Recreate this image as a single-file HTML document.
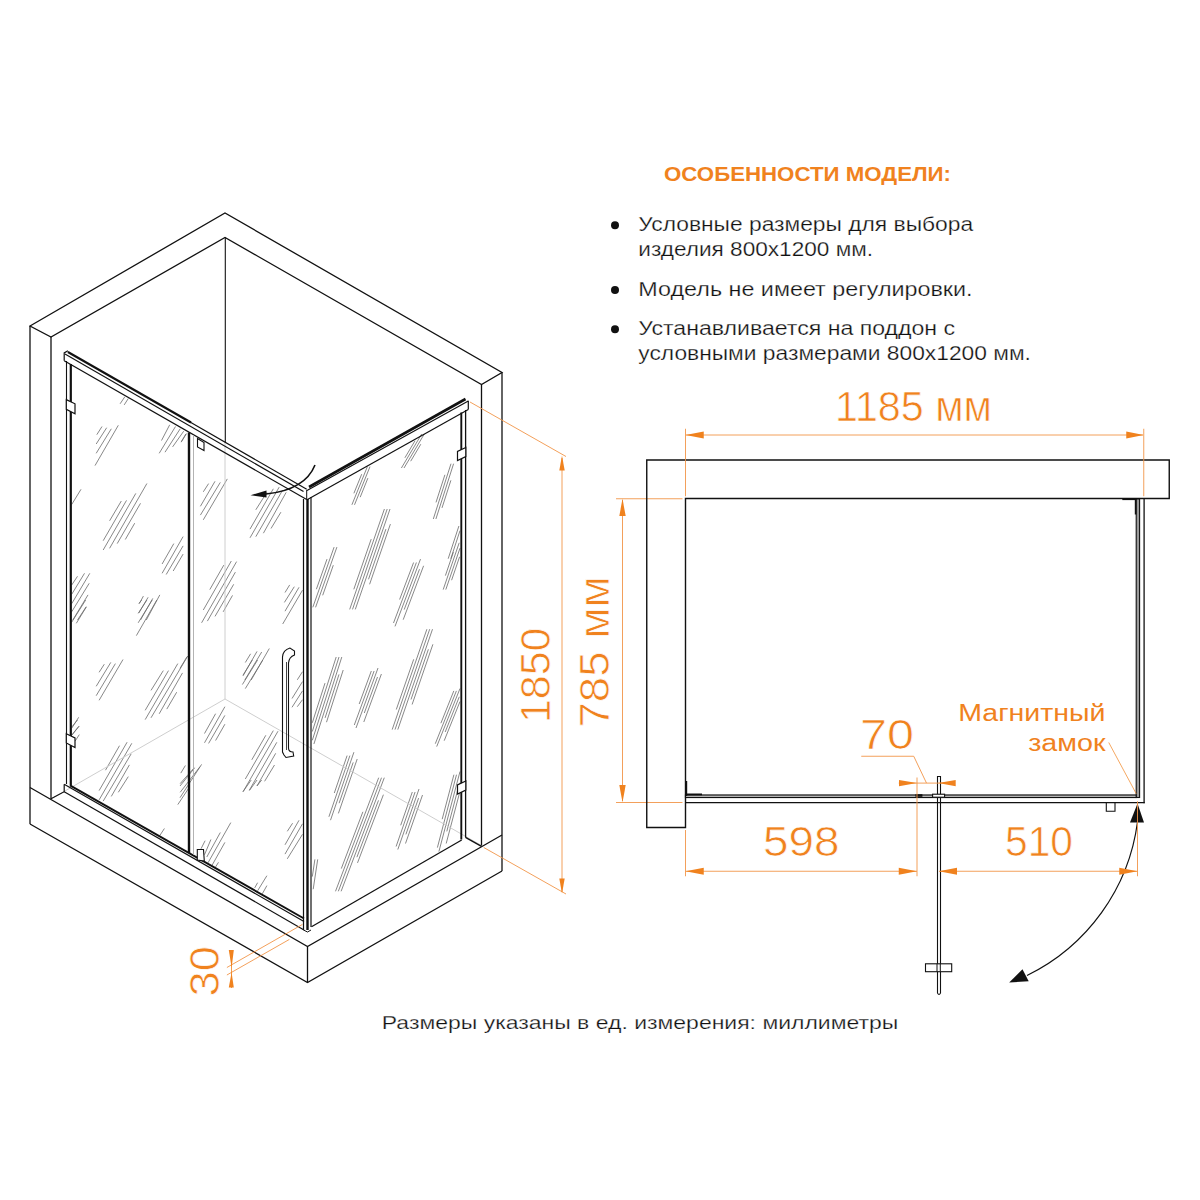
<!DOCTYPE html>
<html><head><meta charset="utf-8"><style>
html,body{margin:0;padding:0;background:#fff;}
svg{display:block;font-family:"Liberation Sans", sans-serif;}
</style></head><body>
<svg width="1200" height="1200" viewBox="0 0 1200 1200" stroke-linecap="butt">
<path d="M96.8,434.7L102.0,426.5 M96.2,444.0L106.7,427.7 M96.2,453.3L111.3,428.8 M95.0,465.6L118.3,425.3 M161.5,440.5L169.7,424.8 M159.2,453.3L175.5,426.5 M165.0,452.2L180.2,428.8 M172.6,446.9L183.7,431.2 M181.3,441.7L186.6,433.5 M120.1,403.8L124.8,396.8 M124.2,404.9L128.3,398.5 M109.6,520.8L121.3,501.0 M103.2,540.7L126.5,500.4 M103.2,550.0L135.8,493.4 M109.6,548.3L146.9,483.5 M117.2,543.6L140.5,503.3 M125.3,539.5L134.7,523.2 M162.1,564.0L173.8,543.6 M162.1,573.3L183.1,536.6 M166.2,574.5L183.1,545.9 M173.2,571.0L183.1,554.1 M71.7,585.0L77.5,576.3 M71.7,594.3L84.5,573.3 M71.7,603.7L89.8,573.3 M71.7,611.8L89.2,583.3 M72.8,620.0L88.0,594.9 M77.5,620.0L86.3,606.6 M139.3,603.7L143.4,596.1 M138.8,613.0L148.1,597.3 M140.5,620.0L152.8,598.4 M146.3,620.0L159.8,594.9 M71.7,504.5L81.0,489.3 M138.8,603.5L141.7,600.0 M138.2,613.4L146.9,600.0 M138.2,622.8L152.2,600.0 M136.4,635.6L156.8,600.0 M71.7,622.2L85.7,600.0 M76.3,623.3L86.3,607.0 M99.1,672.3L104.3,664.2 M96.2,686.3L110.8,662.4 M96.2,695.7L115.4,663.6 M99.1,700.3L123.0,659.5 M151.0,690.4L163.3,670.6 M145.2,710.3L168.5,670.6 M145.2,719.6L177.8,663.6 M151.0,717.8L187.8,656.0 M159.2,713.8L182.5,672.9 M166.8,709.1L176.7,692.2 M71.7,728.3L78.7,717.3 M71.7,735.3L79.3,726.0 M105.5,770.2L119.5,745.7 M99.1,790.6L127.1,742.2 M99.1,799.9L131.8,743.3 M103.2,801.1L131.2,753.8 M111.3,796.4L129.4,764.9 M118.3,792.3L128.3,776.6 M180.8,773.1L185.4,765.5 M180.2,783.6L194.2,767.8 M180.2,792.3L200.0,766.7 M177.8,804.6L188.3,788.8 M71.7,727.0L77.5,720.0 M71.7,735.2L78.7,726.4 M75.2,741.0L79.3,734.6 M159.8,835.5L164.4,828.5 M203.3,491.8L208.6,483.6 M200.4,506.3L215.0,481.3 M200.4,515.1L220.3,482.4 M203.3,519.8L227.3,478.9 M255.8,509.8L266.9,492.3 M250.0,529.1L273.3,488.8 M250.0,537.8L279.2,487.1 M255.8,536.7L282.7,490.0 M263.4,533.2L286.2,492.3 M271.0,528.5L280.9,512.2 M181.2,442.2L185.8,434.0 M209.8,589.6L223.8,565.1 M203.3,610.0L231.3,561.0 M201.6,622.8L236.6,561.6 M207.4,621.1L235.4,572.1 M215.0,616.4L233.7,584.3 M223.2,611.8L232.5,595.4 M285.0,592.5L289.7,584.9 M284.4,602.4L294.3,586.7 M285.0,611.2L299.0,587.3 M282.7,624.0L302.5,590.2 M245.3,662.5L250.6,653.8 M243.0,675.9L257.0,651.4 M244.8,680.0L261.7,652.0 M251.2,680.0L269.3,648.5 M180.0,668.3L187.0,656.7 M243.0,675.2L252.3,660.0 M242.4,684.5L257.6,660.0 M245.3,688.6L262.8,660.0 M204.5,733.5L215.6,713.7 M204.5,742.8L224.9,706.7 M208.6,743.4L224.9,715.4 M215.6,740.5L224.9,724.2 M251.8,759.8L265.8,735.3 M245.3,779.0L273.3,730.6 M243.0,791.8L278.0,731.2 M249.4,790.1L276.8,742.3 M257.0,786.0L275.7,753.3 M264.6,781.3L274.5,765.0 M297.3,679.8L302.5,671.7 M292.0,698.5L302.5,681.6 M292.0,707.3L302.5,690.9 M297.3,706.7L302.5,699.7 M180.0,786.0L194.6,767.9 M180.0,797.7L201.6,764.4 M243.0,791.7L251.2,780.0 M249.4,790.5L257.0,780.0 M257.0,785.8L261.7,780.0 M201.0,848.8L205.1,840.7 M204.5,854.7L210.9,839.5 M206.8,857.0L220.3,832.5 M208.0,862.8L230.8,822.6 M212.1,865.2L224.9,842.4 M215.6,866.9L218.5,862.3 M287.3,831.3L292.6,823.2 M285.0,844.8L299.0,820.3 M285.0,854.1L302.5,823.8 M287.3,858.8L302.5,834.3 M254.7,887.9L257.6,882.7 M257.6,890.8L266.9,875.7 M262.3,893.8L266.9,885.6 M404.9,457.8L415.0,440.8 M401.4,468.0L421.7,434.0 M404.0,468.0L424.3,434.0 M410.7,461.2L420.8,444.2 M353.9,493.3L361.7,474.2 M351.9,504.8L367.4,466.6 M354.5,504.8L370.0,466.6 M360.2,497.2L367.9,478.1 M436.0,502.4L444.9,474.8 M433.3,519.0L451.0,463.7 M435.9,519.0L453.6,463.7 M442.0,507.9L450.9,480.3 M353.8,589.3L371.2,539.1 M349.7,609.4L384.4,509.0 M352.5,609.4L387.2,509.0 M355.3,609.4L390.0,509.0 M368.5,579.3L385.9,529.1 M369.6,584.3L390.4,524.1 M316.4,589.2L327.0,559.1 M312.8,607.3L334.1,547.1 M315.6,607.3L336.9,547.1 M322.7,595.3L333.3,565.2 M399.6,599.5L413.6,562.5 M393.5,623.0L416.4,562.5 M395.0,626.4L420.5,559.1 M404.2,609.6L419.5,569.2 M403.2,619.7L423.6,565.8 M445.4,575.6L453.4,552.2 M443.2,589.6L459.2,542.8 M445.8,589.6L460.0,548.1 M451.6,580.2L459.6,556.8 M396.3,709.5L413.7,659.3 M392.2,729.6L426.9,629.2 M395.0,729.6L429.7,629.2 M397.8,729.6L432.5,629.2 M411.0,699.5L428.4,649.3 M412.1,704.5L432.9,644.3 M312.3,722.8L325.0,683.1 M312.3,731.5L336.2,657.0 M312.3,740.3L339.0,657.0 M313.9,744.0L341.8,657.0 M325.1,717.9L339.0,674.4 M326.5,722.2L343.2,670.0 M359.2,704.0L371.3,671.0 M354.3,725.0L374.1,671.0 M356.0,728.0L378.0,668.0 M364.3,713.0L377.5,677.0 M363.8,722.0L381.4,674.0 M440.9,723.2L453.8,690.9 M435.3,743.7L456.4,690.9 M436.7,746.6L460.0,688.5 M445.2,732.0L459.3,696.8 M444.2,740.7L460.0,701.5 M334.3,793.0L347.1,755.6 M328.9,816.8L349.9,755.6 M330.5,820.2L353.9,752.2 M339.1,803.2L353.2,762.4 M338.4,813.4L357.2,759.0 M341.3,868.6L362.9,811.8 M335.5,891.3L378.7,777.7 M338.3,891.3L381.5,777.7 M341.1,891.3L384.3,777.7 M356.9,857.2L378.5,800.4 M357.5,862.9L383.4,794.7 M400.7,825.3L412.3,792.0 M396.1,846.5L415.1,792.0 M397.8,849.5L419.0,789.0 M405.9,834.4L418.6,798.1 M405.5,843.5L422.5,795.0 M442.2,819.2L453.9,774.7 M437.4,847.6L456.5,774.7 M438.9,851.6L460.0,771.5 M446.8,831.4L459.6,782.8 M446.2,843.5L460.0,791.2 M312.3,876.6L314.9,859.4 M313.2,889.2L317.7,859.4 M448.2,558.7L458.9,526.0 M450.8,558.7L460.0,530.6" stroke="#6a6a6a" stroke-width="0.8" fill="none"/>
<path d="M51,799 L225,699 L481.5,845.5" stroke="#c8c8c8" stroke-width="0.9" fill="none" />
<line x1="225" y1="442.5" x2="225" y2="699" stroke="#c8c8c8" stroke-width="0.9" />
<path d="M30,326 L225,213 L502,372.5 L481.5,384.5 L225,237.5 L51,337 Z" stroke="#111111" stroke-width="1.3" fill="none" />
<line x1="30" y1="326" x2="30" y2="824" stroke="#111111" stroke-width="1.3" />
<line x1="51" y1="337" x2="51" y2="799" stroke="#111111" stroke-width="1.3" />
<line x1="481.5" y1="384.5" x2="481.5" y2="845.5" stroke="#111111" stroke-width="1.3" />
<line x1="502" y1="372.5" x2="502" y2="871" stroke="#111111" stroke-width="1.3" />
<line x1="225.3" y1="237.5" x2="225.3" y2="442.8" stroke="#111111" stroke-width="1.1" />
<path d="M30,787.5 L307.5,946.5 L502,835" stroke="#111111" stroke-width="1.3" fill="none" />
<path d="M30,824 L307.5,982.5 L502,871" stroke="#111111" stroke-width="1.3" fill="none" />
<line x1="307.5" y1="946.5" x2="307.5" y2="982.5" stroke="#111111" stroke-width="1.3" />
<path d="M51,798.75 L64.2,791.7 L64.2,784.2" stroke="#111111" stroke-width="1.2" fill="none" />
<path d="M64.2,784.2 L304,921.5" stroke="#111111" stroke-width="1.2" fill="none" />
<path d="M64.2,791.7 L304,930" stroke="#111111" stroke-width="1.2" fill="none" />
<path d="M70,785.4 L304,918.5" stroke="#111111" stroke-width="2.0" fill="none" />
<path d="M311.5,926.7 L461.7,840" stroke="#111111" stroke-width="1.3" fill="none" />
<path d="M465.5,837.3 L481.5,846.3" stroke="#111111" stroke-width="1.4" fill="none" />
<line x1="66.5" y1="361" x2="66.5" y2="784" stroke="#111111" stroke-width="1.1" />
<line x1="70.8" y1="364" x2="70.8" y2="785.5" stroke="#111111" stroke-width="2.2" />
<path d="M64.2,360.8 L64.2,352.9 L67.9,350.8" stroke="#111111" stroke-width="1.2" fill="none" />
<path d="M67.9,352 L191,422.5" stroke="#111111" stroke-width="2.2" fill="none" />
<path d="M65,353.9 L303.5,491.5" stroke="#111111" stroke-width="1.2" fill="none" />
<path d="M190,422 L306.7,489.2" stroke="#111111" stroke-width="1.2" fill="none" />
<path d="M64.2,360.8 L306.7,499.5" stroke="#111111" stroke-width="1.2" fill="none" />
<line x1="189" y1="432.5" x2="189" y2="853" stroke="#111111" stroke-width="2.4" />
<line x1="193.5" y1="435" x2="193.5" y2="855" stroke="#aaaaaa" stroke-width="0.9" />
<line x1="303.5" y1="499" x2="303.5" y2="930" stroke="#111111" stroke-width="1.2" />
<line x1="307.5" y1="499" x2="307.5" y2="930" stroke="#111111" stroke-width="2.4" />
<line x1="311" y1="497" x2="311" y2="927" stroke="#111111" stroke-width="1.2" />
<path d="M303.5,930 L307.5,932 L311,930" stroke="#111111" stroke-width="1.0" fill="none" />
<path d="M309,487 L465.5,399" stroke="#111111" stroke-width="2.6" fill="none" />
<path d="M307,490.5 L468.3,401" stroke="#111111" stroke-width="1.2" fill="none" />
<path d="M307.5,499.5 L468.3,409.5" stroke="#111111" stroke-width="1.2" fill="none" />
<line x1="468.3" y1="400.8" x2="468.3" y2="409.5" stroke="#111111" stroke-width="1.2" />
<path d="M306.7,490 L306.7,499.5" stroke="#111111" stroke-width="1.0" fill="none" />
<line x1="461.3" y1="412.5" x2="461.3" y2="839.6" stroke="#111111" stroke-width="1.9" />
<line x1="465.6" y1="410" x2="465.6" y2="837.6" stroke="#111111" stroke-width="1.3" />
<path d="M66.3,399.6 L75,403.8 L75,413.8 L66.3,409.3 Z" stroke="#111111" stroke-width="1.2" fill="#fff"/>
<path d="M66.3,733.8 L75,738 L75,747.5 L66.3,743 Z" stroke="#111111" stroke-width="1.2" fill="#fff"/>
<path d="M197.5,438.5 L197.5,447 L204,450.5 L204,442.5 Z" stroke="#111111" stroke-width="1.1" fill="#fff"/>
<path d="M197.3,860 L197.3,849.5 L203.5,849.5 L204.3,861 Z" stroke="#111111" stroke-width="1.1" fill="#fff"/>
<path d="M465.8,447.5 L457.5,451.5 L457.5,460.5 L465.8,456.5 Z" stroke="#111111" stroke-width="1.2" fill="#fff"/>
<path d="M465.8,781 L457.5,785 L457.5,794 L465.8,790 Z" stroke="#111111" stroke-width="1.2" fill="#fff"/>
<path d="M284,755 L282.5,752 L282.5,657 Q283,650 290,648 L294.5,651 L294.5,655 Q289,657 288.5,663 L288.5,748 Q288.5,752 293,752 L293.7,756 L286,757.5 Z" stroke="#111111" stroke-width="1.1" fill="none" />
<line x1="286.5" y1="662" x2="286.5" y2="750" stroke="#111111" stroke-width="0.8" />
<path d="M315,465 Q305,490 266,494" stroke="#111111" stroke-width="1.6" fill="none" />
<polygon points="250.5,495.2 266.5,490.5 266.5,497.5" fill="#111111" stroke="none" stroke-width="1"/>
<line x1="470" y1="402" x2="566" y2="456.5" stroke="#F29548" stroke-width="0.9" />
<line x1="483.75" y1="847.5" x2="566" y2="894" stroke="#F29548" stroke-width="0.9" />
<line x1="562" y1="458" x2="562" y2="892" stroke="#F29548" stroke-width="0.9" />
<polygon points="562,455.5 559.3,470.5 564.7,470.5" fill="#F0821E" stroke="none" stroke-width="1"/>
<polygon points="562,893.5 559.3,878.5 564.7,878.5" fill="#F0821E" stroke="none" stroke-width="1"/>
<text x="549.7" y="723" font-size="43" fill="#F0821E" font-weight="normal" text-anchor="start" textLength="95.5" lengthAdjust="spacingAndGlyphs" transform="rotate(-90 549.7 723)" stroke="#fff" stroke-width="0.7">1850</text>
<line x1="616" y1="498.75" x2="682.5" y2="498.75" stroke="#F29548" stroke-width="0.9" />
<line x1="616" y1="802.5" x2="682.5" y2="802.5" stroke="#F29548" stroke-width="0.9" />
<line x1="622.5" y1="500" x2="622.5" y2="801" stroke="#F29548" stroke-width="0.9" />
<polygon points="622.5,498.75 619.3,516 625.7,516" fill="#F0821E" stroke="none" stroke-width="1"/>
<polygon points="622.5,802.5 619.3,785 625.7,785" fill="#F0821E" stroke="none" stroke-width="1"/>
<text x="608.7" y="727.5" font-size="43" fill="#F0821E" font-weight="normal" text-anchor="start" textLength="151.5" lengthAdjust="spacingAndGlyphs" transform="rotate(-90 608.7 727.5)" stroke="#fff" stroke-width="0.7">785 мм</text>
<line x1="226.9" y1="967.5" x2="302.5" y2="924.4" stroke="#F29548" stroke-width="0.9" />
<line x1="226.9" y1="975" x2="289.4" y2="939.4" stroke="#F29548" stroke-width="0.9" />
<line x1="231.5" y1="950" x2="231.5" y2="988" stroke="#F0821E" stroke-width="0.8" />
<polygon points="228.8,950 233.8,950 231.6,967.5" fill="#F0821E" stroke="none" stroke-width="1"/>
<polygon points="228.8,987.5 233.8,987.5 231.6,972.5" fill="#F0821E" stroke="none" stroke-width="1"/>
<text x="218.75" y="996.5" font-size="43" fill="#F0821E" font-weight="normal" text-anchor="start" textLength="50.5" lengthAdjust="spacingAndGlyphs" transform="rotate(-90 218.75 996.5)" stroke="#fff" stroke-width="0.7">30</text>
<path d="M685.5,827.5 L646.75,827.5 L646.75,460 L1169.25,460 L1169.25,498.5 L685.5,498.5 Z" stroke="#111111" stroke-width="1.4" fill="none" />
<rect x="1136.2" y="499" width="3.4" height="298.5" fill="#9a9a9a" stroke="#111111" stroke-width="1.1"/>
<line x1="1144.1" y1="498.5" x2="1144.1" y2="803.2" stroke="#111111" stroke-width="1.3" />
<line x1="1135.6" y1="499" x2="1135.6" y2="514.5" stroke="#111111" stroke-width="1.6" />
<line x1="1122.3" y1="499.3" x2="1136" y2="499.3" stroke="#111111" stroke-width="1.6" />
<rect x="685.5" y="795" width="450.7" height="2.5" fill="#c8c8c8" stroke="#111111" stroke-width="1.2"/>
<line x1="685.5" y1="802.6" x2="1144.7" y2="802.6" stroke="#111111" stroke-width="1.3" />
<line x1="686.4" y1="781" x2="686.4" y2="796" stroke="#111111" stroke-width="1.6" />
<line x1="686" y1="794.4" x2="702" y2="794.4" stroke="#111111" stroke-width="1.8" />
<path d="M1106.3,802.5 L1106.3,811.3 L1115,811.3 L1115,802.5" stroke="#111111" stroke-width="1.1" fill="none" />
<path d="M937.5,776.5 L937.5,993 Q939,996 940.5,993 L940.5,776.5 Z" stroke="#111111" stroke-width="1.1" fill="none" />
<rect x="925.5" y="963.8" width="26.2" height="7.9" fill="#fff" stroke="#111111" stroke-width="1.1"/>
<line x1="937" y1="963.8" x2="937" y2="971.7" stroke="#111111" stroke-width="1.0" />
<line x1="940.3" y1="963.8" x2="940.3" y2="971.7" stroke="#111111" stroke-width="1.0" />
<rect x="932.6" y="794.2" width="12" height="3" fill="#fff" stroke="#111111" stroke-width="1.1"/>
<rect x="915.4" y="794.2" width="7" height="2.6" fill="#111111"/>
<path d="M1137.5,822 A200,200 0 0 1 1027,975.5" stroke="#111111" stroke-width="1.2" fill="none" />
<polygon points="1137.5,803.5 1130,822.5 1144,822.5" fill="#111111" stroke="none" stroke-width="1"/>
<polygon points="1009.2,982.5 1022.5,969.2 1028.7,981.3" fill="#111111" stroke="none" stroke-width="1"/>
<line x1="685.5" y1="428.75" x2="685.5" y2="496.25" stroke="#F29548" stroke-width="0.9" />
<line x1="1143.75" y1="428.75" x2="1143.75" y2="496.25" stroke="#F29548" stroke-width="0.9" />
<line x1="686" y1="435" x2="1143" y2="435" stroke="#F29548" stroke-width="0.9" />
<polygon points="685.5,435 703.75,431.5 703.75,438.5" fill="#F0821E" stroke="none" stroke-width="1"/>
<polygon points="1143.75,435 1126.25,431.5 1126.25,438.5" fill="#F0821E" stroke="none" stroke-width="1"/>
<text x="835" y="421.25" font-size="43" fill="#F0821E" font-weight="normal" text-anchor="start" textLength="157" lengthAdjust="spacingAndGlyphs" stroke="#fff" stroke-width="0.7">1185 мм</text>
<line x1="685.5" y1="830" x2="685.5" y2="876.25" stroke="#F29548" stroke-width="0.9" />
<line x1="686" y1="871.25" x2="917" y2="871.25" stroke="#F29548" stroke-width="0.9" />
<polygon points="685.5,871.25 703.75,867.75 703.75,874.75" fill="#F0821E" stroke="none" stroke-width="1"/>
<polygon points="917,871.25 898.75,867.75 898.75,874.75" fill="#F0821E" stroke="none" stroke-width="1"/>
<line x1="917" y1="777.5" x2="917" y2="876.25" stroke="#F29548" stroke-width="0.9" />
<text x="763" y="856.25" font-size="43" fill="#F0821E" font-weight="normal" text-anchor="start" textLength="76.5" lengthAdjust="spacingAndGlyphs" stroke="#fff" stroke-width="0.7">598</text>
<line x1="939" y1="871.25" x2="1137.5" y2="871.25" stroke="#F29548" stroke-width="0.9" />
<polygon points="938.75,871.25 957,867.75 957,874.75" fill="#F0821E" stroke="none" stroke-width="1"/>
<polygon points="1137.5,871.25 1119.25,867.75 1119.25,874.75" fill="#F0821E" stroke="none" stroke-width="1"/>
<line x1="1137.5" y1="801.25" x2="1137.5" y2="876.25" stroke="#F29548" stroke-width="0.9" />
<text x="1005" y="856.25" font-size="43" fill="#F0821E" font-weight="normal" text-anchor="start" textLength="68" lengthAdjust="spacingAndGlyphs" stroke="#fff" stroke-width="0.7">510</text>
<line x1="861.25" y1="756.25" x2="913.75" y2="756.25" stroke="#F29548" stroke-width="0.9" />
<line x1="913.75" y1="756.25" x2="926.5" y2="783.1" stroke="#F29548" stroke-width="0.9" />
<line x1="898.75" y1="783.1" x2="955" y2="783.1" stroke="#F29548" stroke-width="0.9" />
<polygon points="917,783.1 899,779.9 899,786.3" fill="#F0821E" stroke="none" stroke-width="1"/>
<polygon points="938.2,783.1 955.7,779.9 955.7,786.3" fill="#F0821E" stroke="none" stroke-width="1"/>
<text x="860" y="748.75" font-size="43" fill="#F0821E" font-weight="normal" text-anchor="start" textLength="54" lengthAdjust="spacingAndGlyphs" stroke="#fff" stroke-width="0.7">70</text>
<text x="958.2" y="720.5" font-size="24.7" fill="#F0821E" font-weight="normal" text-anchor="start" textLength="147.3" lengthAdjust="spacingAndGlyphs" >Магнитный</text>
<text x="1028.2" y="750.9" font-size="24.7" fill="#F0821E" font-weight="normal" text-anchor="start" textLength="77.4" lengthAdjust="spacingAndGlyphs" >замок</text>
<line x1="1108.75" y1="742.5" x2="1136.25" y2="793.75" stroke="#F0821E" stroke-width="0.7" />
<text x="664" y="181.25" font-size="20" fill="#F0821E" font-weight="bold" text-anchor="start" textLength="287" lengthAdjust="spacingAndGlyphs" >ОСОБЕННОСТИ МОДЕЛИ:</text>
<circle cx="615" cy="225.3" r="4" fill="#111111"/>
<circle cx="615" cy="290.1" r="4" fill="#111111"/>
<circle cx="615" cy="329.3" r="4" fill="#111111"/>
<text x="638.3" y="230.6" font-size="20.5" fill="#111" font-weight="normal" text-anchor="start" textLength="334.8" lengthAdjust="spacingAndGlyphs" stroke="#fff" stroke-width="0.25">Условные размеры для выбора</text>
<text x="638.3" y="255.7" font-size="20.5" fill="#111" font-weight="normal" text-anchor="start" textLength="234.7" lengthAdjust="spacingAndGlyphs" stroke="#fff" stroke-width="0.25">изделия 800x1200 мм.</text>
<text x="638.3" y="296" font-size="20.5" fill="#111" font-weight="normal" text-anchor="start" textLength="334.3" lengthAdjust="spacingAndGlyphs" stroke="#fff" stroke-width="0.25">Модель не имеет регулировки.</text>
<text x="638.3" y="335" font-size="20.5" fill="#111" font-weight="normal" text-anchor="start" textLength="316.8" lengthAdjust="spacingAndGlyphs" stroke="#fff" stroke-width="0.25">Устанавливается на поддон с</text>
<text x="638.3" y="359.7" font-size="20.5" fill="#111" font-weight="normal" text-anchor="start" textLength="392.6" lengthAdjust="spacingAndGlyphs" stroke="#fff" stroke-width="0.25">условными размерами 800x1200 мм.</text>
<text x="381.8" y="1029.4" font-size="19" fill="#111" font-weight="normal" text-anchor="start" textLength="516.5" lengthAdjust="spacingAndGlyphs" stroke="#fff" stroke-width="0.25">Размеры указаны в ед. измерения: миллиметры</text>
</svg>
</body></html>
